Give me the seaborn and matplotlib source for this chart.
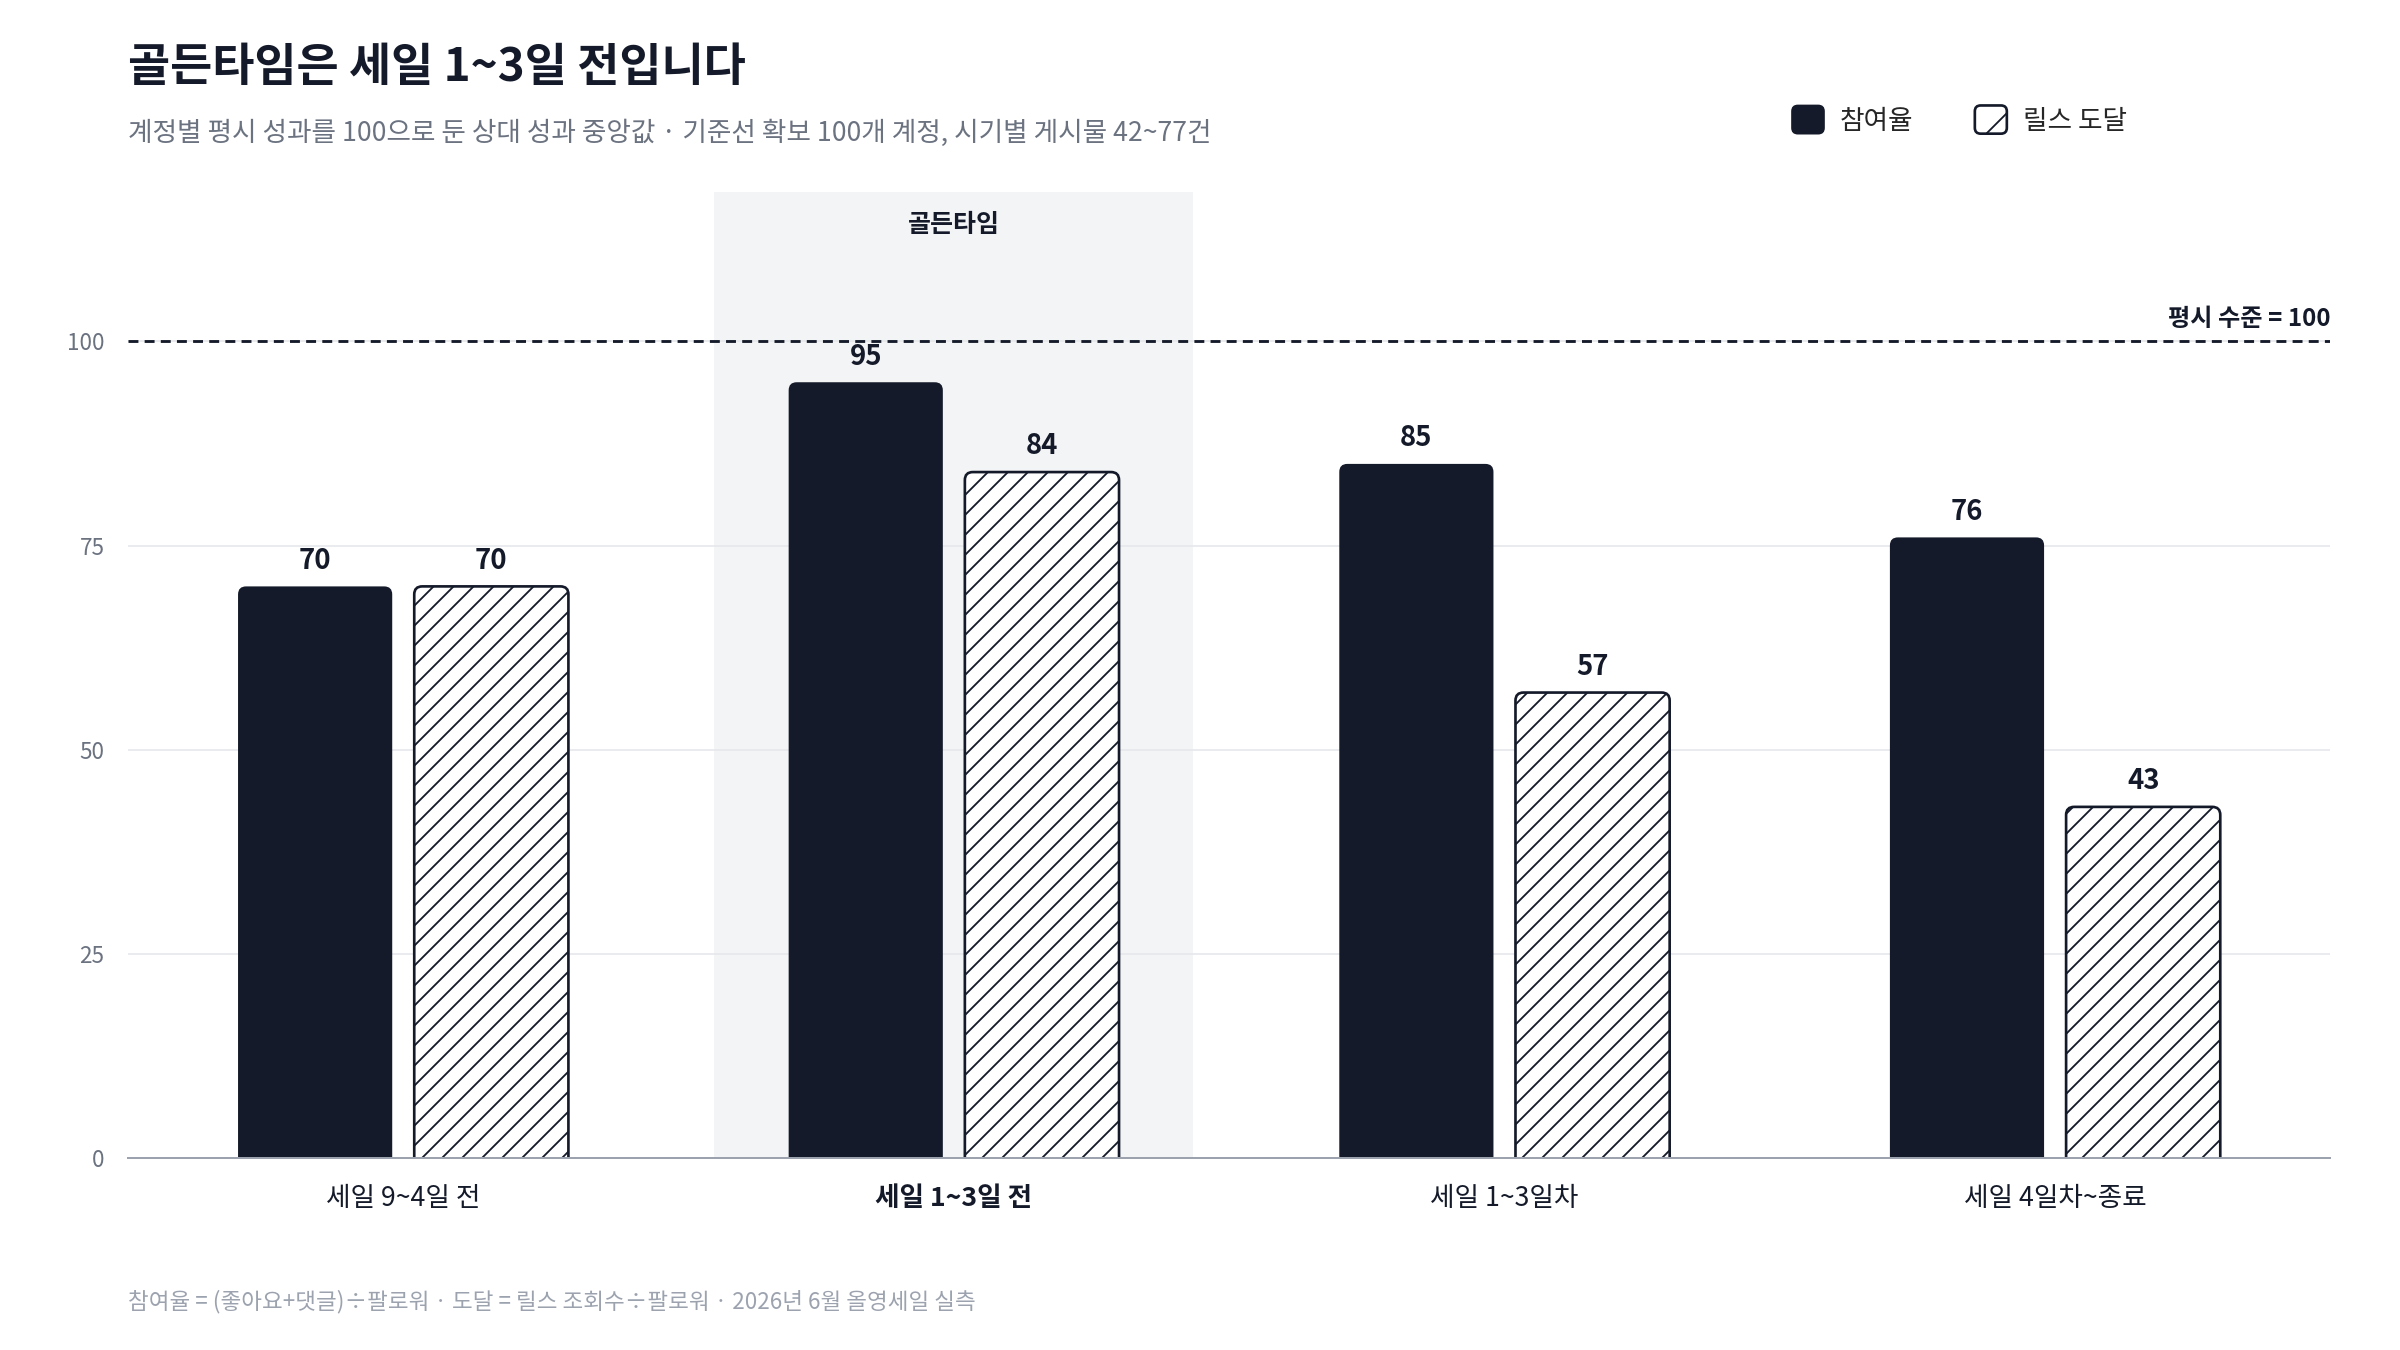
import numpy as np
import pandas as pd
import matplotlib
matplotlib.use("Agg")
import matplotlib.pyplot as plt
import matplotlib.transforms as mtransforms
from matplotlib.patches import FancyBboxPatch, Patch
from matplotlib.legend_handler import HandlerPatch
import seaborn as sns

# data
periods = ["세일 9~4일 전", "세일 1~3일 전", "세일 1~3일차", "세일 4일차~종료"]
metrics = ["참여율", "릴스 도달"]
engagement = [70, 95, 85, 76]
reels_reach = [70, 84, 57, 43]
y_ticks = [0, 25, 50, 75, 100]
baseline = 100
golden_idx = 1

DARK = "#141a29"
GRAY_TXT = "#6b7280"
LIGHT_TXT = "#9ca3af"
GRID = "#e5e7eb"
SHADE = "#f3f4f6"

df = pd.DataFrame({
    "period": periods * 2,
    "metric": [metrics[0]] * len(periods) + [metrics[1]] * len(periods),
    "value": engagement + reels_reach,
})

sns.set_theme(style="white")
plt.rcParams["font.family"] = ["Noto Sans CJK KR", "DejaVu Sans"]
plt.rcParams["hatch.linewidth"] = 1.1

fig = plt.figure(figsize=(20, 11.25), dpi=120)
ax = fig.add_axes([0.0533, 0.1422, 0.9177, 0.7156])

sns.barplot(data=df, x="period", y="value", hue="metric", order=periods,
            hue_order=metrics, palette=[DARK, "white"], saturation=1,
            width=0.64, gap=0.125, legend=False, ax=ax, zorder=3)

# hatch for reach bars
for bar in ax.containers[1]:
    bar.set_hatch("//")
    bar.set_edgecolor(DARK)
    bar.set_linewidth(1.6)
for bar in ax.containers[0]:
    bar.set_edgecolor(DARK)
    bar.set_linewidth(0)

# value labels
for cont in ax.containers:
    ax.bar_label(cont, fmt="%d", padding=7, fontsize=16.5, fontweight="bold",
                 color=DARK)

ax.set_xlim(-0.5, len(periods) - 0.5)
ax.set_ylim(0, 118.3)

# rounded tops: swap rectangles for rounded boxes of the same size
fig.canvas.draw()
bb = ax.get_window_extent()
px_x = bb.width / (ax.get_xlim()[1] - ax.get_xlim()[0])
px_y = bb.height / (ax.get_ylim()[1] - ax.get_ylim()[0])
aspect = px_x / px_y
r = 8 / px_x
for cont in ax.containers:
    for bar in cont:
        x0, y0 = bar.get_x(), bar.get_y()
        w, h = bar.get_width(), bar.get_height()
        rb = FancyBboxPatch((x0, y0 - 2), w, h + 2,
                            boxstyle=f"round,pad=0,rounding_size={r}",
                            mutation_aspect=aspect,
                            facecolor=bar.get_facecolor(),
                            edgecolor=bar.get_edgecolor(),
                            linewidth=bar.get_linewidth(),
                            hatch=bar.get_hatch(), zorder=3)
        ax.add_patch(rb)
        bar.set_visible(False)

# golden time band
ax.axvspan(golden_idx - 0.435, golden_idx + 0.435, color=SHADE, zorder=0, lw=0)
ax.text(golden_idx, 114.3, "골든타임", ha="center", va="center",
        fontsize=15, fontweight="bold", color=DARK)

# grid + baseline
ax.set_yticks(y_ticks)
ax.yaxis.grid(True, color=GRID, linewidth=1.0, zorder=1)
ax.set_axisbelow(True)
ax.axhline(baseline, color=DARK, linewidth=1.7, linestyle=(0, (3.5, 2.2)), zorder=2)
trans = mtransforms.blended_transform_factory(ax.transAxes, ax.transData)
ax.annotate("평시 수준 = 100", xy=(1.0, baseline), xycoords=trans,
            xytext=(0, 6), textcoords="offset points", ha="right", va="bottom",
            fontsize=14.5, fontweight="bold", color=DARK)

for s in ["top", "right", "left"]:
    ax.spines[s].set_visible(False)
ax.spines["bottom"].set_color(LIGHT_TXT)
ax.spines["bottom"].set_linewidth(1.2)
ax.spines["bottom"].set_zorder(4)

ax.set_xlabel("")
ax.set_ylabel("")
ax.tick_params(axis="y", length=0, pad=14, labelsize=13.5, labelcolor=GRAY_TXT)
ax.tick_params(axis="x", length=0, pad=16, labelsize=16, labelcolor=DARK)
ax.get_xticklabels()[golden_idx].set_fontweight("bold")


# legend with rounded swatches
def round_swatch(legend, orig_handle, xdescent, ydescent, width, height, fontsize):
    return FancyBboxPatch((-xdescent, -ydescent), width, height,
                          boxstyle="round,pad=0,rounding_size=3.5")


handles = [Patch(facecolor=DARK, edgecolor=DARK, label=metrics[0]),
           Patch(facecolor="white", edgecolor=DARK, hatch="/", linewidth=1.6,
                 label=metrics[1])]
fig.legend(handles=handles, loc="center left",
           bbox_to_anchor=(1792 / 2400, 1 - 120 / 1350), ncol=2, frameon=False,
           fontsize=16, handlelength=1.2, handleheight=1.25, handletextpad=0.6,
           columnspacing=2.3, borderpad=0, borderaxespad=0,
           handler_map={Patch: HandlerPatch(patch_func=round_swatch)})

# titles
fig.text(0.0533, 1 - 68 / 1350, "골든타임은 세일 1~3일 전입니다", fontsize=27.5,
         fontweight="bold", color=DARK, va="center")
fig.text(0.0533, 1 - 133 / 1350,
         "계정별 평시 성과를 100으로 둔 상대 성과 중앙값 · 기준선 확보 100개 계정, 시기별 게시물 42~77건",
         fontsize=16, color=GRAY_TXT, va="center")
fig.text(0.0533, 1 - 1302 / 1350,
         "참여율 = (좋아요+댓글)÷팔로워 · 도달 = 릴스 조회수÷팔로워 · 2026년 6월 올영세일 실측",
         fontsize=13.5, color=LIGHT_TXT, va="center")

fig.savefig("out.png", dpi=120, facecolor="white")
